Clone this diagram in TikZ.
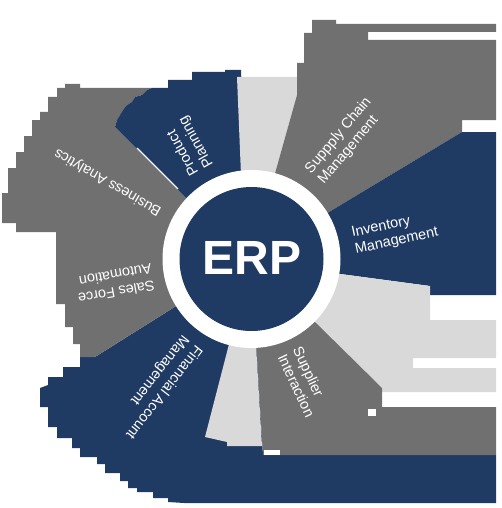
\documentclass[tikz,border=0pt]{standalone}
\usepackage{fontspec}
\setmainfont{Liberation Sans}
\definecolor{erpblue}{HTML}{1F3A63}
\definecolor{erpgray}{HTML}{707070}
\definecolor{erplight}{HTML}{D9D9D9}
\begin{document}
\begin{tikzpicture}[x=1pt,y=-1pt,
  lbl/.style={text=white,font=\fontsize{14.5}{17}\selectfont,align=left,inner sep=0pt},
  ttl/.style={text=white,font=\fontsize{48}{50}\selectfont\bfseries,inner sep=0pt}]
\useasboundingbox (0,0) rectangle (501,508);
% Financial Account Management (blue, bottom)
\fill[erpblue] (251,259) -- (95,357) -- (80,357) -- (80,367) -- (63,367) -- (63,377) -- (48,377) -- (48,385) -- (40,388) -- (40,407) -- (48,407) -- (48,427) -- (57,427) -- (57,438) -- (72,438) -- (72,448) -- (80,448) -- (80,457) -- (97,457) -- (97,464) -- (105,464) -- (105,473) -- (120,473) -- (120,481) -- (128,481) -- (128,488) -- (137,488) -- (137,492) -- (153,492) -- (153,498) -- (168,498) -- (168,502) -- (184,503) -- (496,503) -- (496,455) -- (263,455) -- cycle;
% Business Analytics / Sales Force Automation (gray, left)
\fill[erpgray] (251,263) -- (115,127) -- (117,120) -- (120,115) -- (123,110) -- (127,105) -- (132,102) -- (135,97) -- (142,95) -- (147,90) -- (152,88) -- (80,88) -- (80,84) -- (65,84) -- (65,88) -- (57,88) -- (57,97) -- (48,97) -- (48,112) -- (40,112) -- (40,120) -- (32,120) -- (32,136) -- (24,136) -- (24,152) -- (16,152) -- (16,168) -- (8,168) -- (8,193) -- (2,193) -- (2,223) -- (16,223) -- (16,232) -- (56,232) -- (56,304) -- (65,304) -- (65,327) -- (73,327) -- (73,344) -- (80,344) -- (80,357) -- (95,357) -- (251,259) -- cycle;
% Product Planning (blue, top left)
\fill[erpblue] (251,263) -- (115,127) -- (117,120) -- (120,115) -- (123,110) -- (127,105) -- (132,102) -- (135,97) -- (142,95) -- (147,90) -- (152,88) -- (168,88) -- (168,80) -- (192,80) -- (192,72) -- (225,72) -- (225,70) -- (241,70) -- (246,200) -- cycle;
% light wedge, top
\fill[erplight] (237,77) -- (297,77) -- (297,95) -- (251,259) -- (241,175) -- cycle;
% Supply Chain Management (gray, top right)
\fill[erpgray] (251,259) -- (297,95) -- (297,63) -- (304,63) -- (304,33) -- (312,33) -- (312,20) -- (336,20) -- (336,24) -- (496,24) -- (496,32) -- (368,32) -- (368,40) -- (496,40) -- (496,120) -- (462,120) -- (462,132) -- cycle;
% Inventory Management (blue, right)
\fill[erpblue] (251,259) -- (462,132) -- (496,132) -- (496,295) -- (430,295) -- (430,286) -- (251,262) -- cycle;
% light wedge, right
\fill[erplight] (251,262) -- (430,286) -- (430,320) -- (496,320) -- (496,358) -- (413,358) -- (413,368) -- (496,368) -- (496,392) -- (382,392) -- (382,388) -- cycle;
% light wedge, bottom
\fill[erplight] (251,259) -- (205,437) -- (227,442) -- (227,446) -- (262,446) -- cycle;
% Supplier Interaction (gray, bottom right)
\fill[erpgray] (251,259) -- (382,388) -- (382,407) -- (496,407) -- (496,455) -- (263,455) -- cycle;
% small white notches
\fill[white] (264,450) rectangle (280,455);
\fill[white] (368,409) rectangle (376,416);
\draw[white,line width=1.2pt] (137,148) -- (178,189);
% centre
\fill[white] (251.5,259) circle[radius=89pt];
\fill[erpblue] (251.5,259) circle[radius=72pt];
\node[ttl] (erp) at (252,257.5) {ERP};
% labels
\node[lbl,rotate=119] (pp) at (189,146) {Product\\Planning};
\node[lbl,rotate=150] (ba) at (108,182) {Business Analytics};
\node[lbl,rotate=190] (sfa) at (115,284) {Sales Force\\Automation};
\node[lbl,rotate=232] (fam) at (157,387) {Financial Account\\Management};
\node[lbl,rotate=-65] (si) at (304,382) {Supplier\\Interaction};
\node[lbl,rotate=12] (im) at (395,233) {Inventory\\Management};
\node[lbl,rotate=50] (scm) at (345,141) {Suppply Chain\\Management};
\end{tikzpicture}
\end{document}
